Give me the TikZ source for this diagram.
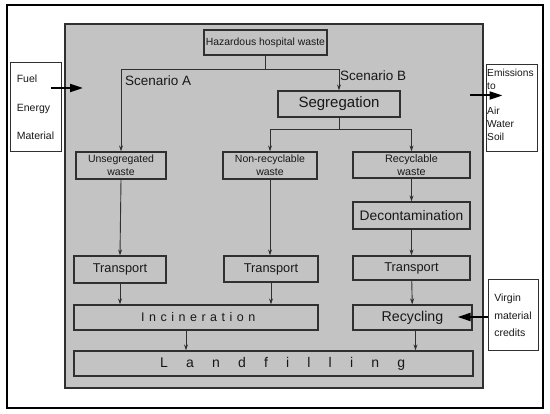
\documentclass[tikz,border=0pt]{standalone}
\usepackage{fontspec}
\setmainfont{Liberation Sans}
\newfontfamily\incfont[LetterSpace=36]{Liberation Sans}
\newfontfamily\landfont[LetterSpace=130]{Liberation Sans}
\usetikzlibrary{arrows.meta}
\definecolor{bggray}{HTML}{C3C3C3}
\definecolor{bordr}{HTML}{303030}
\definecolor{txt}{HTML}{181818}
\newcommand{\fsz}[1]{\fontsize{#1}{#1}\selectfont}
\begin{document}
\begin{tikzpicture}[x=1pt,y=-1pt,
  procbox/.style={draw=bordr,fill=bggray,line width=1.2pt,inner sep=0pt,text=txt,align=center},
  sidebox/.style={draw=bordr,fill=white,line width=1pt,inner sep=0pt,text=txt},
  thinarr/.style={draw=bordr,line width=0.9pt,-{Stealth[length=6pt,width=4pt]}},
  thinline/.style={draw=bordr,line width=0.9pt},
  thickarr/.style={draw=black,line width=2pt,-{Triangle[length=13pt,width=8pt]}},
  lbl/.style={text=txt,inner sep=0pt}]
\useasboundingbox (0,0) rectangle (550,414);
\draw[black,line width=1.3pt] (7,5) rectangle (543,408);
\draw[bordr,fill=bggray,line width=1.8pt] (65,24) rectangle (483,388);

\node[procbox,minimum width=123pt,minimum height=25pt,font=\fsz{10.4}] (haz) at (265.5,42.5) {Hazardous hospital waste};
\node[procbox,minimum width=122pt,minimum height=26pt,font=\fsz{15}] (seg) at (339,104) {Segregation};
\node[procbox,minimum width=90pt,minimum height=27pt,font=\fontsize{10.5}{13}\selectfont] (unseg) at (121,165.5) {Unsegregated\\waste};
\node[procbox,minimum width=94pt,minimum height=27pt,font=\fontsize{10.5}{13}\selectfont] (nonrec) at (270,165.5) {Non-recyclable\\waste};
\node[procbox,minimum width=117pt,minimum height=26pt,font=\fontsize{10.8}{13}\selectfont] (rec) at (411.5,165) {Recyclable\\waste};
\node[procbox,minimum width=117pt,minimum height=27pt,font=\fsz{13.8}] (decon) at (411.5,215.5) {Decontamination};
\node[procbox,minimum width=92pt,minimum height=27pt,font=\fsz{12.8}] (tl) at (120,269.5) {Transport};
\node[procbox,minimum width=94pt,minimum height=26pt,font=\fsz{12.8}] (tm) at (271,269) {Transport};
\node[procbox,minimum width=117pt,minimum height=24pt,font=\fsz{12.8}] (tr) at (411.5,268) {Transport};
\node[procbox,minimum width=244pt,minimum height=25pt,font=\incfont\fsz{12.5}] (inc) at (196,317.5) {\kern4.5pt Incineration};
\node[procbox,minimum width=119pt,minimum height=25pt,font=\fsz{14.2}] (recy) at (412.5,317.5) {Recycling};
\node[procbox,minimum width=399pt,minimum height=25pt,font=\landfont\fsz{14}] (land) at (273.5,363.5) {\kern18.2pt Landfilling};

\node[sidebox,minimum width=51pt,minimum height=89pt,align=left,font=\fontsize{10.5}{28.5}\selectfont] (fuel) at (35.5,107.5) {Fuel\\Energy\\Material};
\node[sidebox,minimum width=51pt,minimum height=87pt] (emis) at (511.5,108.5) {};
\node[lbl,anchor=north west,align=left,font=\fontsize{10.2}{12.8}\selectfont] (emistext) at ([shift={(1.5,4.5)}]emis.north west) {Emissions\\to\\[12.8pt]Air\\Water\\Soil};
\node[sidebox,minimum width=50pt,minimum height=71pt,align=left,font=\fontsize{10.5}{17.5}\selectfont] (virgin) at (513,315.5) {Virgin\\material\\credits};

\node[lbl,anchor=west,font=\fsz{13.5}] (scA) at (125,81) {Scenario A};
\node[lbl,anchor=west,font=\fsz{13.5}] (scB) at (340,76) {Scenario B};

\coordinate (split) at (haz.south |- 0,69);
\draw[thinline] (haz.south) -- (split);
\draw[thinarr] (split) -| (unseg.north);
\draw[thinarr] (split) -| (seg.north);
\coordinate (split2) at (seg.south |- 0,129);
\draw[thinline] (seg.south) -- (split2);
\draw[thinarr] (split2) -| (nonrec.north);
\draw[thinarr] (split2) -| (rec.north);
\draw[thinarr] (rec) -- (decon);
\draw[thinarr] (decon) -- (tr);
\draw[thinarr] (tr) -- (recy);
\draw[thinarr] (unseg.south) -- (tl.south |- tl.north);
\draw[thinarr] (nonrec.south) -- (nonrec.south |- tm.north);
\draw[thinarr] (tl.south) -- (tl.south |- inc.north);
\draw[thinarr] (tm.south) -- (tm.south |- inc.north);
\draw[thinarr] ([xshift=-10pt]inc.south) -- ([xshift=-10pt]inc.south |- land.north);
\draw[thinarr] ([xshift=3pt]recy.south) -- ([xshift=3pt]recy.south |- land.north);

\coordinate (fuelend) at (83,88);
\coordinate (fuelstart) at ([xshift=-11pt]fuel.east |- fuelend);
\draw[thickarr] (fuelstart) -- (fuelend);
\coordinate (emisstart) at (470,95.5);
\coordinate (emisend) at ([xshift=17pt]emis.west |- emisstart);
\draw[thickarr] (emisstart) -- (emisend);
\coordinate (virgend) at ([xshift=-15pt]recy.east |- 0,317);
\draw[thickarr] (virgin.west |- virgend) -- (virgend);
\end{tikzpicture}
\end{document}
